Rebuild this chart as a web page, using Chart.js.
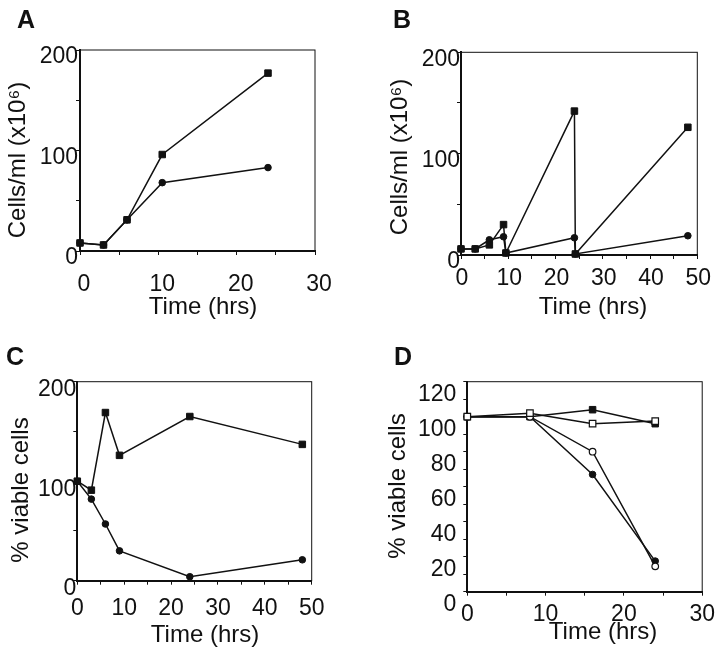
<!DOCTYPE html>
<html>
<head>
<meta charset="utf-8">
<script src="https://cdn.jsdelivr.net/npm/chart.js@4.4.1/dist/chart.umd.min.js"></script>
<style>
  body { margin: 0; background: #fff; }
  #fig { position: relative; width: 720px; height: 654px; font-family: "Liberation Sans", Arial, sans-serif; }
  #fig canvas { position: absolute; }
  .letter { position: absolute; font-weight: bold; font-size: 25px; line-height: 25px; color: #111; }
</style>
</head>
<body>
<div id="fig">
  <canvas id="chartA" width="360" height="330" style="left:0;top:0"></canvas>
  <canvas id="chartB" width="360" height="330" style="left:360px;top:0"></canvas>
  <canvas id="chartC" width="360" height="324" style="left:0;top:330px"></canvas>
  <canvas id="chartD" width="360" height="324" style="left:360px;top:330px"></canvas>
  <div class="letter" style="left:17px;top:7px">A</div>
  <div class="letter" style="left:393px;top:7px">B</div>
  <div class="letter" style="left:6px;top:344px">C</div>
  <div class="letter" style="left:394px;top:344px">D</div>
</div>
<script>
// A: cell density, two cultures
const timeA = [0, 3, 6, 10.5, 24];
const cellsA_square = [8, 6, 31, 96, 177];
const cellsA_circle = [8, 6, 31, 68, 83];

// B: cultures split back at 9 h and 24 h
const timeB = [0, 3, 6, 9, 9.5, 24, 24.2, 48];
const cellsB_square = [6, 6, 10, 30, 2, 142, 1, 126];
const cellsB_circle = [6, 6, 15, 18, 2, 17, 1, 19];

// C: % viable cells
const timeC = [0, 3, 6, 9, 24, 48];
const viableC_square = [100, 91, 169, 126, 165, 137];
const viableC_circle = [100, 82, 57, 30, 4, 21];

// D: % viable cells, four conditions
const timeD = [0, 8, 16, 24];
const viableD_filledSquare = [100, 100, 104, 96];
const viableD_openSquare = [100, 102, 96, 97.5];
const viableD_openCircle = [100, 100, 80, 14.5];
const viableD_filledCircle = [100, 100, 67, 17.5];

const ticksCells = [0, 100, 200];
const ticksViable = [0, 20, 40, 60, 80, 100, 120];
const ticksTime = [0, 10, 20, 30, 40, 50];

const ink = '#111';
const family = '"Liberation Sans", Arial, sans-serif';

// box round the plot area
const frame = {
  id: 'frame',
  beforeDatasetsDraw(chart) {
    const a = chart.chartArea;
    const ctx = chart.ctx;
    ctx.save();
    ctx.strokeStyle = ink;
    ctx.lineWidth = 1;
    ctx.strokeRect(a.left, a.top, a.right - a.left, a.bottom - a.top);
    ctx.restore();
  }
};

// axis titles, placed where the scan has them
const axisTitles = {
  id: 'axisTitles',
  afterDraw(chart, args, opts) {
    const ctx = chart.ctx;
    ctx.save();
    ctx.fillStyle = ink;
    ctx.font = '24px ' + family;
    ctx.textAlign = 'center';
    ctx.textBaseline = 'middle';
    ctx.fillText(opts.x.text, opts.x.cx, opts.x.cy);
    ctx.translate(opts.y.cx, opts.y.cy);
    ctx.rotate(-Math.PI / 2);
    ctx.fillText(opts.y.text, 0, 0);
    ctx.restore();
  }
};

function series(xs, ys, marker, open) {
  return {
    data: xs.map((x, i) => ({ x: x, y: ys[i] })),
    showLine: true,
    borderColor: ink,
    borderWidth: 1.5,
    pointStyle: marker,
    pointRadius: marker === 'rect' ? 4.6 : 3.3,
    pointBackgroundColor: open ? '#fff' : ink,
    pointBorderColor: ink,
    pointBorderWidth: open ? 1.2 : 1,
    clip: false
  };
}

function drawPanel(id, p) {
  new Chart(document.getElementById(id), {
    type: 'scatter',
    data: { datasets: p.datasets },
    options: {
      responsive: false,
      animation: false,
      layout: { padding: p.pad },
      plugins: {
        legend: { display: false },
        tooltip: { enabled: false },
        axisTitles: { x: p.xTitle, y: p.yTitle }
      },
      scales: {
        x: {
          type: 'linear', min: 0, max: p.xMax,
          afterFit: s => { s.height = p.xAxisH; },
          border: { display: true, color: ink, width: 2 },
          grid: { display: true, drawOnChartArea: false, drawTicks: true, tickLength: 4, color: ink },
          ticks: {
            stepSize: 5, autoSkip: false, maxRotation: 0, color: ink,
            font: { size: 23, family: family }, padding: p.xPad, labelOffset: p.xOff,
            callback: v => ticksTime.includes(v) ? v : ''
          }
        },
        y: {
          type: 'linear', min: 0, max: p.yMax,
          afterFit: s => { s.width = p.yAxisW; },
          border: { display: true, color: ink, width: 2 },
          grid: { display: true, drawOnChartArea: false, drawTicks: true, tickLength: 4, color: ink },
          ticks: {
            stepSize: p.yStep, autoSkip: false, color: ink,
            font: { size: 23, family: family }, padding: p.yPad, labelOffset: p.yOff,
            callback: v => p.yLabels.includes(v) ? v : ''
          }
        }
      }
    },
    plugins: [frame, axisTitles]
  });
}

drawPanel('chartA', {
  datasets: [series(timeA, cellsA_square, 'rect'), series(timeA, cellsA_circle, 'circle')],
  pad: { left: 4.5, right: 45, top: 50, bottom: 9.5 },
  xMax: 30, xAxisH: 69.5, xPad: 16, xOff: 4,
  yMax: 200, yStep: 50, yLabels: ticksCells, yAxisW: 75.5, yPad: -2, yOff: 7,
  xTitle: { text: 'Time (hrs)', cx: 203, cy: 307 },
  yTitle: { text: 'Cells/ml (x10\u2076)', cx: 18.5, cy: 160 }
});

drawPanel('chartB', {
  datasets: [series(timeB, cellsB_square, 'rect'), series(timeB, cellsB_circle, 'circle')],
  pad: { left: 26.2, right: 22.7, top: 52.3, bottom: 9.5 },
  xMax: 50, xAxisH: 65.5, xPad: 6, xOff: 1,
  yMax: 200, yStep: 50, yLabels: ticksCells, yAxisW: 74.8, yPad: -3, yOff: 7,
  xTitle: { text: 'Time (hrs)', cx: 233, cy: 307 },
  yTitle: { text: 'Cells/ml (x10\u2076)', cx: 40, cy: 157 }
});

drawPanel('chartC', {
  datasets: [series(timeC, viableC_square, 'rect'), series(timeC, viableC_circle, 'circle')],
  pad: { left: 7.9, right: 48.3, top: 51.7, bottom: 5.2 },
  xMax: 50, xAxisH: 68.1, xPad: 10, xOff: 0,
  yMax: 200, yStep: 50, yLabels: ticksCells, yAxisW: 69.4, yPad: -3, yOff: 8,
  xTitle: { text: 'Time (hrs)', cx: 205, cy: 305 },
  yTitle: { text: '% viable cells', cx: 21.5, cy: 160 }
});

drawPanel('chartD', {
  datasets: [
    series(timeD, viableD_openSquare, 'rect', true),
    series(timeD, viableD_openCircle, 'circle', true),
    series(timeD, viableD_filledSquare, 'rect'),
    series(timeD, viableD_filledCircle, 'circle')
  ],
  pad: { left: 24.5, right: 10, top: 51.7, bottom: 8.5 },
  xMax: 30, xAxisH: 53.8, xPad: 5, xOff: 0,
  yMax: 120, yStep: 10, yLabels: ticksViable, yAxisW: 82.8, yPad: 7, yOff: 13,
  xTitle: { text: 'Time (hrs)', cx: 243, cy: 302 },
  yTitle: { text: '% viable cells', cx: 38.5, cy: 156 }
});
</script>
</body>
</html>
